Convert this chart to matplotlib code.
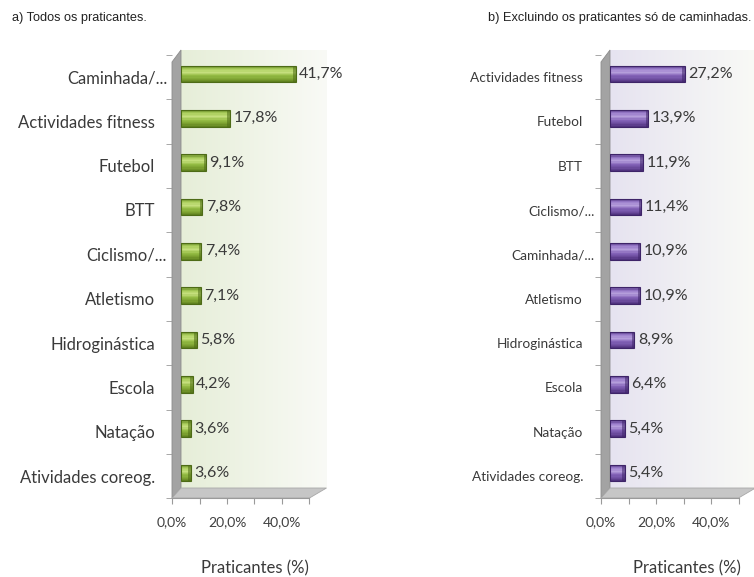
import matplotlib
matplotlib.use("Agg")
import matplotlib.pyplot as plt
import numpy as np
from matplotlib.patches import Polygon
from matplotlib.colors import LinearSegmentedColormap
from matplotlib.transforms import ScaledTranslation

# ---------------- data ----------------
cats_a = ["Caminhada/...", "Actividades fitness", "Futebol", "BTT", "Ciclismo/...",
          "Atletismo", "Hidroginástica", "Escola", "Natação", "Atividades coreog."]
vals_a = [41.7, 17.8, 9.1, 7.8, 7.4, 7.1, 5.8, 4.2, 3.6, 3.6]

cats_b = ["Actividades fitness", "Futebol", "BTT", "Ciclismo/...", "Caminhada/...",
          "Atletismo", "Hidroginástica", "Escola", "Natação", "Atividades coreog."]
vals_b = [27.2, 13.9, 11.9, 11.4, 10.9, 10.9, 8.9, 6.4, 5.4, 5.4]

xticks = [0, 10, 20, 30, 40, 50]
xticklabels = ["0,0%", "", "20,0%", "", "40,0%", ""]
title_a = "a) Todos os praticantes."
title_b = "b) Excluindo os praticantes só de caminhadas."
xlabel = "Praticantes (%)"

W, H = 754, 577
fig = plt.figure(figsize=(W / 100, H / 100), dpi=100)
fig.patch.set_facecolor("white")

FONT = ["Lato", "DejaVu Sans"]
NARROW = ["Liberation Sans Narrow", "Liberation Sans", "DejaVu Sans"]
TXT = "#3a3a3a"


def rect(x0, y0, x1, y1):
    return [x0 / W, 1 - y1 / H, (x1 - x0) / W, (y1 - y0) / H]


def fpt(x, y):
    return (x / W, 1 - y / H)


def panel(cats, vals, wall_x, bar0, bg_col, bar_cols, edge_col, xlab_x, cat_fs, cat_pad_px):
    k = 2.75
    span = 50 * k
    c_top, c_bot = 74, 473
    slot = (c_bot - c_top) / 9.0
    # back wall (gradient)
    bx0, bx1, by0, by1 = bar0, bar0 + span + 8, 50, 488
    axbg = fig.add_axes(rect(bx0, by0, bx1, by1), zorder=-3)
    grad = np.linspace(0, 1, 256).reshape(1, -1)
    cmap = LinearSegmentedColormap.from_list("bg", [bg_col, "#f9faf6"])
    axbg.imshow(grad, aspect="auto", cmap=cmap, extent=[0, 1, 0, 1])
    axbg.set_axis_off()
    # side wall
    wall = Polygon([fpt(wall_x, 498), fpt(wall_x, 62), fpt(bar0, 50), fpt(bar0, 488)],
                   closed=True, transform=fig.transFigure, facecolor="#a3a3a3",
                   edgecolor="#8c8c8c", lw=0.6, zorder=-2)
    fig.patches.append(wall)
    # floor
    floor = Polygon([fpt(wall_x, 498), fpt(wall_x + span, 498), fpt(bx1, 488), fpt(bar0, 488)],
                    closed=True, transform=fig.transFigure, facecolor="#c6c6c6",
                    edgecolor="#a8a8a8", lw=0.6, zorder=-2)
    fig.patches.append(floor)

    # tick / category axis
    axt = fig.add_axes(rect(wall_x, c_top + 3 - slot / 2, wall_x + span, c_bot + 3 + slot / 2), zorder=-1)
    axt.patch.set_alpha(0)
    axt.set_xlim(0, 50)
    axt.set_ylim(9.5, -0.5)
    for s in ["top", "right", "left"]:
        axt.spines[s].set_visible(False)
    axt.spines["bottom"].set_color("#9a9a9a")
    axt.set_xticks(xticks)
    axt.set_xticklabels(xticklabels, fontsize=10, color="#404040", family=FONT)
    axt.tick_params(axis="x", length=4, color="#9a9a9a", pad=9)
    y = np.arange(len(cats))
    axt.set_yticks(y)
    axt.set_yticklabels(cats, fontsize=cat_fs, color=TXT, family=FONT)
    axt.tick_params(axis="y", length=0, pad=cat_pad_px * 0.72)
    for lab in axt.get_yticklabels():
        if lab.get_text().endswith("..."):
            lab.set_transform(lab.get_transform() +
                              ScaledTranslation(12 / 100, 0, fig.dpi_scale_trans))
    axt.set_yticks(np.arange(-0.5, 10, 1), minor=True)
    axt.tick_params(axis="y", which="minor", length=4, color="#9a9a9a")

    # bar axis
    axb = fig.add_axes(rect(bar0, c_top - slot / 2, bar0 + span, c_bot + slot / 2), zorder=1)
    axb.patch.set_alpha(0)
    axb.set_xlim(0, 50)
    axb.set_ylim(9.5, -0.5)
    axb.set_axis_off()
    h = 0.38
    vals = np.array(vals)
    # cylinder shading: stacked thin slices
    bcmap = LinearSegmentedColormap.from_list("bar", bar_cols)
    n = 14
    for i in range(n):
        t = (i + 0.5) / n
        yoff = -h / 2 + t * h
        axb.barh(y + yoff, vals, height=h / n * 1.05, color=bcmap(t), linewidth=0, zorder=2)
    axb.barh(y, vals, height=h, fill=False, edgecolor=edge_col, linewidth=0.8, zorder=3)
    # end cap
    axb.barh(y, np.full_like(vals, 0.9), left=vals - 0.9, height=h, color=edge_col,
             alpha=0.55, linewidth=0, zorder=3)
    for yi, v in zip(y, vals):
        axb.text(v + 1.3, yi, f"{v:.1f}%".replace(".", ","), va="center", ha="left",
                 fontsize=11.5, color=TXT, family=FONT, clip_on=False)

    fig.text(xlab_x / W, 1 - 568 / H, xlabel, ha="center", va="center",
             fontsize=12, color=TXT, family=FONT)


panel(cats_a, vals_a, 172, 181, "#e6eed8",
      ["#5f8220", "#a8cc5a", "#c6e07e", "#94bb44", "#7ea332", "#5b7c1c"], "#4d6b16", 255,
      12, 17)
panel(cats_b, vals_b, 601, 610, "#e6e3f0",
      ["#4f327e", "#9a7ccb", "#b69fdc", "#8463b8", "#6e4ea0", "#4a2d78"], "#3e2468", 687,
      9.8, 18)

fig.text(12 / W, 1 - 18 / H, title_a, ha="left", va="center", fontsize=9.2,
         color="#222222", family=NARROW)
fig.text(752 / W, 1 - 18 / H, title_b, ha="right", va="center", fontsize=9.2,
         color="#222222", family=NARROW)

fig.savefig("out.png", dpi=100)
